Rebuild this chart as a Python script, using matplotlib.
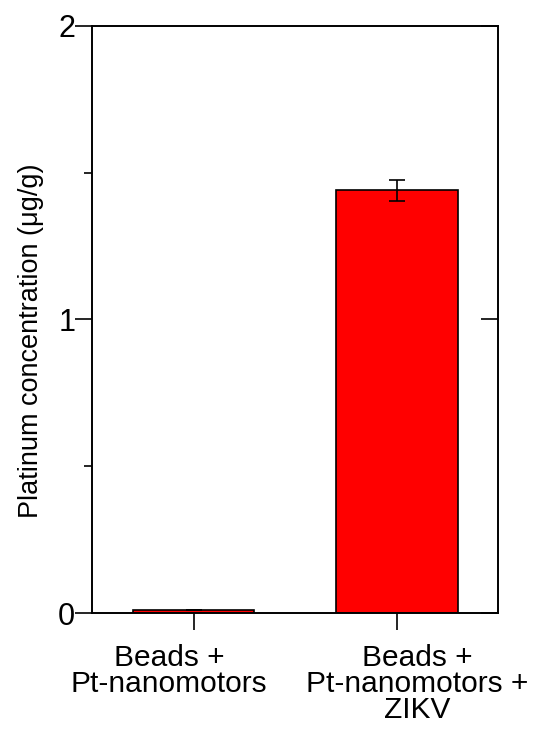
import matplotlib
matplotlib.use("Agg")
import matplotlib.pyplot as plt
from matplotlib.ticker import MultipleLocator

plt.rcParams['font.family'] = ['Liberation Sans', 'DejaVu Sans']

# Données : concentration de platine mesurée
groups = ["Beads +\nPt-nanomotors", "Beads +\nPt-nanomotors +\nZIKV"]
platinum = [0.01, 1.44]
platinum_err = [0.0, 0.036]
# décalage horizontal des étiquettes de groupe (unités de données)
label_shift = [-0.12, 0.10]

fig = plt.figure(figsize=(5.38, 7.33), dpi=100)
ax = fig.add_axes([0.171, 0.1637, 0.755, 0.801])

x = list(range(len(groups)))
ax.bar(x, platinum, width=0.6, color="#ff0000", edgecolor="black", linewidth=1.2,
       yerr=platinum_err, capsize=6, error_kw=dict(elinewidth=1.2, capthick=1.2, ecolor="black"))

ax.set_xlim(-0.5, 1.5)
ax.set_ylim(0, 2)
ax.set_xticks(x)
ax.set_xticklabels([])
for xi, g, dx in zip(x, groups, label_shift):
    ax.text(xi + dx, -0.052, g, transform=ax.get_xaxis_transform(), ha="center", va="top",
            fontsize=21.5, linespacing=0.93)

ax.yaxis.set_major_locator(MultipleLocator(1))
ax.yaxis.set_minor_locator(MultipleLocator(0.5))
ax.tick_params(axis="y", which="major", direction="out", length=12, width=1.2, labelsize=22, pad=0)
ax.tick_params(axis="y", which="minor", direction="out", length=6, width=1.2)
ax.tick_params(axis="x", direction="out", length=12, width=1.2)

# Repère interne à droite pour la graduation principale
ax2 = ax.twinx()
ax2.set_ylim(0, 2)
ax2.yaxis.set_major_locator(MultipleLocator(1))
ax2.yaxis.set_minor_locator(MultipleLocator(0.5))
ax2.tick_params(axis="y", which="major", direction="in", length=12, width=1.2, labelright=False)
ax2.tick_params(axis="y", which="minor", length=0)

for a in (ax, ax2):
    for s in a.spines.values():
        s.set_linewidth(1.2)

ax.set_ylabel("Platinum concentration (μg/g)", fontsize=19.5)
ax.yaxis.set_label_coords(-0.117, 0.464)

plt.savefig("out.png", dpi=100)
